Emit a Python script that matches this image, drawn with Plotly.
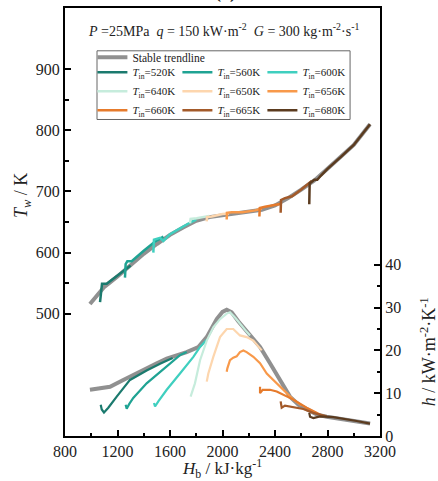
import plotly.graph_objects as go

# ---------------- data ----------------
tin_values = [520, 560, 600, 640, 650, 656, 660, 665, 680]
colors = ["#1b7a6e", "#1fa393", "#3fcfbf", "#c6ecdc", "#fdd6ae",
          "#f8994a", "#e67b2c", "#a35a2a", "#5b3b1f"]

# stable trendline: wall temperature
trend_hb_tw = [990, 1050, 1100, 1200, 1300, 1400, 1500, 1600, 1700, 1800, 1900, 2000,
               2100, 2200, 2300, 2400, 2500, 2600, 2700, 2800, 2900, 3000, 3124]
trend_tw = [516, 531, 544, 561, 580, 598, 614, 629, 641, 652, 658, 661,
            663, 666, 670, 677, 689, 703, 718, 737, 756, 776, 810]

# stable trendline: heat transfer coefficient
trend_hb_h = [990, 1100, 1143, 1244, 1300, 1422, 1500, 1575, 1650, 1727, 1816, 1880,
              1956, 2000, 2032, 2070, 2120, 2184, 2240, 2286, 2362, 2438, 2514, 2580,
              2641, 2720, 2794, 2900, 3022, 3124]
trend_h = [10.8, 11.2, 11.5, 13.1, 13.9, 15.8, 17.0, 18.1, 18.9, 19.6, 20.8, 23.1,
           27.3, 29.0, 29.5, 28.9, 26.8, 24.6, 22.6, 20.8, 17.0, 13.1, 9.2, 7.3,
           6.2, 5.0, 4.5, 4.0, 3.5, 2.9]

# individual inlet temperatures: wall temperature
seg_hb_tw = [
    [1067, 1078, 1082, 1118, 1160, 1200, 1257, 1300],
    [1257, 1262, 1275, 1308, 1400, 1480, 1550],
    [1473, 1478, 1524, 1549, 1600, 1700, 1760, 1800],
    [1752, 1757, 1803, 1850, 1900],
    [1879, 1882, 1917, 1950, 2000, 2050],
    [2032, 2034, 2070, 2150, 2250, 2300],
    [2281, 2284, 2324, 2380, 2450],
    [2443, 2446, 2476, 2530, 2600, 2680],
    [2661, 2664, 2700, 2722, 2750, 2800, 2900, 3000, 3124],
]
seg_tw = [
    [519, 546, 549, 549, 556, 563, 571, 579],
    [559, 581, 586, 586, 603, 617, 626],
    [600, 621, 624, 619, 630, 643, 650, 654],
    [648, 655, 656, 658, 660],
    [651, 658, 659, 661, 663, 664],
    [654, 665, 666, 666, 669, 672],
    [659, 673, 675, 677, 680],
    [665, 686, 689, 692, 703, 717],
    [679, 713, 719, 719, 726, 737, 756, 776, 810],
]

# individual inlet temperatures: heat transfer coefficient
seg_hb_h = [
    [1072, 1080, 1097, 1130, 1194, 1295, 1422, 1524, 1620],
    [1262, 1270, 1290, 1320, 1422, 1575, 1676, 1727],
    [1478, 1486, 1511, 1575, 1676, 1778, 1829, 1880],
    [1757, 1765, 1790, 1829, 1880, 1930, 1981, 2032, 2057, 2100, 2133, 2180, 2210],
    [1880, 1892, 1930, 1981, 2032, 2082, 2133, 2184, 2235, 2299],
    [2032, 2037, 2057, 2082, 2108, 2133, 2159, 2184, 2235, 2286, 2337, 2387, 2463, 2540, 2600],
    [2286, 2286, 2306, 2362, 2413, 2463, 2540, 2641, 2743],
    [2443, 2451, 2476, 2540, 2616, 2692, 2794],
    [2661, 2667, 2692, 2743, 2844, 2950, 3022, 3124],
]
seg_h = [
    [7.3, 6.2, 5.5, 6.6, 9.2, 13.1, 15.3, 16.9, 18.2],
    [7.3, 6.4, 7.5, 8.9, 12.3, 16.2, 18.9, 19.6],
    [7.7, 6.9, 8.1, 10.8, 14.6, 18.5, 20.8, 22.5],
    [9.2, 10.0, 12.3, 17.7, 22.3, 25.4, 27.3, 28.6, 28.9, 27.5, 26.2, 24.5, 23.5],
    [12.7, 14.6, 18.5, 23.1, 25.0, 25.0, 23.5, 23.1, 22.3, 20.0],
    [15.0, 15.8, 17.7, 18.3, 18.6, 19.6, 20.0, 19.6, 18.5, 17.0, 14.6, 13.1, 10.8, 8.5, 7.2],
    [11.5, 10.0, 10.8, 10.8, 10.4, 9.6, 8.5, 6.6, 5.0],
    [8.1, 6.6, 7.1, 6.8, 6.3, 5.4, 4.6],
    [5.4, 4.5, 4.2, 4.6, 4.4, 3.9, 3.5, 2.9],
]

x_ticks = [800, 1200, 1600, 2000, 2400, 2800, 3200]
x_minor = [1000, 1400, 1800, 2200, 2600, 3000]
tw_ticks = [500, 600, 700, 800, 900]
tw_minor = [550, 650, 750, 850]
h_ticks = [0, 10, 20, 30, 40]
h_minor = [5, 15, 25, 35]

# ---------------- figure ----------------
FONT = "Liberation Serif"
fig = go.Figure()

fig.add_trace(go.Scatter(x=trend_hb_tw, y=trend_tw, mode="lines",
                         line=dict(color="#909090", width=4),
                         name="Stable trendline", legend="legend"))
fig.add_trace(go.Scatter(x=trend_hb_h, y=trend_h, mode="lines", yaxis="y2",
                         line=dict(color="#909090", width=4), showlegend=False))

for t, c, hx, tw, hhx, hh in zip(tin_values, colors, seg_hb_tw, seg_tw, seg_hb_h, seg_h):
    fig.add_trace(go.Scatter(x=hx, y=tw, mode="lines", line=dict(color=c, width=2.5),
                             name=f"<i>T</i><sub>in</sub>={t}K", legend="legend2"))
    fig.add_trace(go.Scatter(x=hhx, y=hh, mode="lines", yaxis="y2",
                             line=dict(color=c, width=2.2), showlegend=False))

axis_common = dict(ticks="inside", ticklen=6, tickwidth=1.5, tickcolor="black",
                   showline=True, linecolor="black", linewidth=2,
                   showgrid=False, zeroline=False,
                   tickfont=dict(family=FONT, size=16, color="#222"))

fig.update_layout(
    width=438, height=481,
    margin=dict(l=65, r=58, t=6, b=45),
    plot_bgcolor="white", paper_bgcolor="white",
    font=dict(family=FONT, size=16, color="#222"),
    xaxis=dict(range=[800, 3200], tickvals=x_ticks, mirror=True,
               minor=dict(tickvals=x_minor, ticks="inside", ticklen=3.5,
                          tickwidth=1.5, tickcolor="black"),
               **axis_common),
    yaxis=dict(range=[300, 1000], tickvals=tw_ticks, mirror=True,
               minor=dict(tickvals=tw_minor, ticks="inside", ticklen=3.5,
                          tickwidth=1.5, tickcolor="black"),
               **axis_common),
    yaxis2=dict(range=[0, 100], tickvals=h_ticks, overlaying="y", side="right",
                minor=dict(tickvals=h_minor, ticks="inside", ticklen=3.5,
                           tickwidth=1.5, tickcolor="black"),
                **axis_common),
    legend=dict(x=0.087, y=0.919, xanchor="left", yanchor="top",
                bgcolor="rgba(0,0,0,0)", font=dict(family=FONT, size=11.5, color="#222"),
                itemwidth=30),
    legend2=dict(x=0.087, y=0.884, xanchor="left", yanchor="top", orientation="h",
                 entrywidth=40, bgcolor="rgba(0,0,0,0)",
                 font=dict(family=FONT, size=11, color="#222"), itemwidth=30),
    shapes=[dict(type="rect", xref="paper", yref="paper", x0=0.1016, x1=0.905,
                 y0=0.7395, y1=0.9, line=dict(color="#666", width=1))],
    annotations=[
        dict(text="<i>P</i> =25MPa  <i>q</i> = 150 kW·m<sup>-2</sup>  <i>G</i> = 300 kg·m<sup>-2</sup>·s<sup>-1</sup>",
             x=0.5016, y=0.949, xref="paper", yref="paper", showarrow=False,
             xanchor="center", yanchor="middle",
             font=dict(family=FONT, size=14, color="#222")),
        dict(text="<i>H</i><sub>b</sub> / kJ·kg<sup>-1</sup>", x=0.498, y=-0.0767,
             xref="paper", yref="paper", showarrow=False,
             xanchor="center", yanchor="middle",
             font=dict(family=FONT, size=17, color="#222")),
        dict(text="<i>T</i><sub><i>w</i></sub> / K", x=-0.1365, y=0.5605,
             xref="paper", yref="paper", showarrow=False, textangle=-90,
             xanchor="center", yanchor="middle",
             font=dict(family=FONT, size=18, color="#222")),
        dict(text="<i>h</i> / kW·m<sup>-2</sup>·K<sup>-1</sup>", x=1.152, y=0.198,
             xref="paper", yref="paper", showarrow=False, textangle=-90,
             xanchor="center", yanchor="middle",
             font=dict(family=FONT, size=18, color="#222")),
        dict(text="<b>(a)</b>", x=0.508, y=1.007, xref="paper", yref="paper",
             showarrow=False, xanchor="center", yanchor="bottom",
             font=dict(family=FONT, size=18, color="#222")),
    ],
)

fig.write_html("out.html")
